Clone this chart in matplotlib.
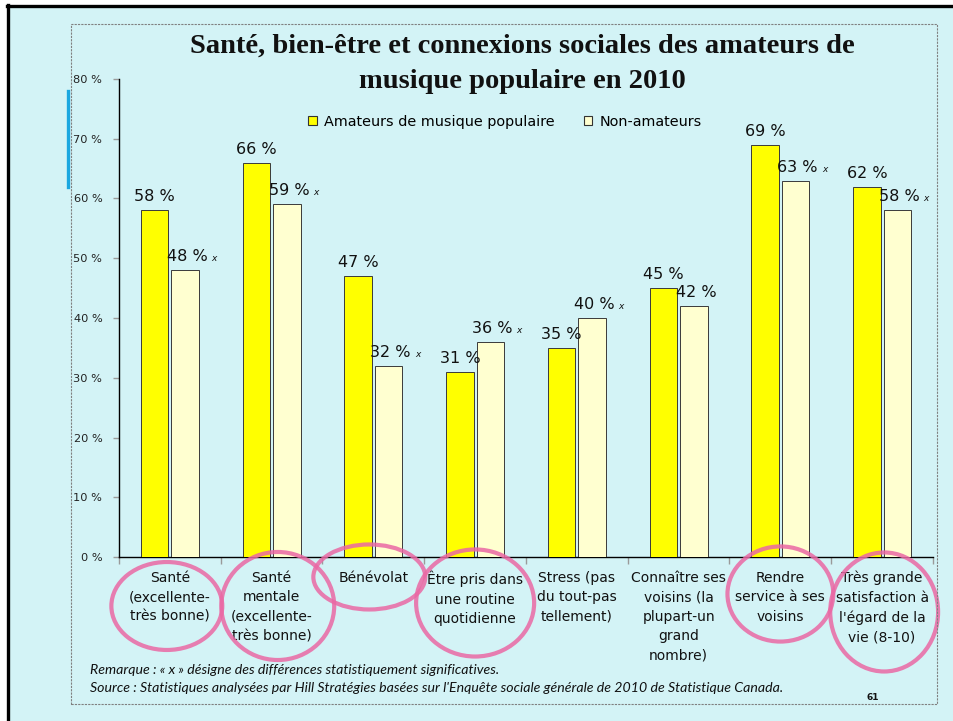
import matplotlib
matplotlib.use("Agg")
import matplotlib.pyplot as plt
from matplotlib.patches import Rectangle, Ellipse, Patch
from matplotlib.lines import Line2D
from matplotlib.transforms import blended_transform_factory
import numpy as np

# ---------------- data ----------------
categories = [
    "Santé\n(excellente-\ntrès bonne)",
    "Santé\nmentale\n(excellente-\ntrès bonne)",
    "Bénévolat",
    "Être pris dans\nune routine\nquotidienne",
    "Stress (pas\ndu tout-pas\ntellement)",
    "Connaître ses\nvoisins (la\nplupart-un\ngrand\nnombre)",
    "Rendre\nservice à ses\nvoisins",
    "Très grande\nsatisfaction à\nl'égard de la\nvie (8-10)",
]
amateurs = [58, 66, 47, 31, 35, 45, 69, 62]
non_amateurs = [48, 59, 32, 36, 40, 42, 63, 58]
significant = [True, True, True, True, True, False, True, True]
highlighted = [0, 1, 2, 3, 6, 7]

series_names = ["Amateurs de musique populaire", "Non-amateurs"]
title_lines = ["Santé, bien-être et connexions sociales des amateurs de",
               "musique populaire en 2010"]
note1 = "Remarque : « x » désigne des différences statistiquement significatives."
note2 = ("Source : Statistiques analysées par Hill Stratégies basées sur l'Enquête sociale "
         "générale de 2010 de Statistique Canada.")
page_no = "61"
yticks = [0, 10, 20, 30, 40, 50, 60, 70, 80]

# ---------------- style ----------------
BG = "#D3F3F6"
YEL = "#FFFF00"
CREAM = "#FFFFD0"
PINK = "#EA68A4"
W, H = 954, 721

fig = plt.figure(figsize=(W / 100, H / 100), dpi=100, facecolor="white")

def fx(px):
    return px / W

def fy(py):
    return 1 - py / H

# slide background + borders
fig.patches.append(Rectangle((fx(8), 0), 1 - fx(8), fy(5), transform=fig.transFigure,
                             facecolor=BG, edgecolor="none", zorder=-10))
fig.lines.append(Line2D([fx(7), 1], [fy(5.5), fy(5.5)], transform=fig.transFigure,
                        color="black", lw=2.4))
fig.lines.append(Line2D([fx(8.5), fx(8.5)], [fy(5), 0], transform=fig.transFigure,
                        color="black", lw=2.4))
# dotted chart frame
fig.patches.append(Rectangle((fx(71), fy(704)), fx(937) - fx(71), fy(24) - fy(704),
                             transform=fig.transFigure, facecolor="none",
                             edgecolor="#808080", lw=0.8, linestyle=(0, (2, 1))))
# blue accent line
fig.lines.append(Line2D([fx(68), fx(68)], [fy(91), fy(187)], transform=fig.transFigure,
                        color="#1AA7E0", lw=2.4))

ax = fig.add_axes([fx(119), fy(557), fx(933) - fx(119), fy(79) - fy(557)])
ax.set_facecolor("none")

n = len(categories)
x = np.arange(n)
bw = 0.27
off = 0.15
ax.bar(x - off, amateurs, bw, color=YEL, edgecolor="#3a3a3a", linewidth=0.7,
       label=series_names[0], zorder=3)
ax.bar(x + off, non_amateurs, bw, color=CREAM, edgecolor="#3a3a3a", linewidth=0.7,
       label=series_names[1], zorder=3)

ax.set_xlim(-0.5, n - 0.5)
ax.set_ylim(0, 80)
ax.set_yticks(yticks)
ax.set_yticklabels([f"{t} %" for t in yticks], fontsize=8.2, color="#222222")
ax.tick_params(axis="y", length=4, color="#9a9a9a", width=1, pad=8)

ax.set_xticks(np.arange(n + 1) - 0.5)
ax.set_xticklabels([])
ax.tick_params(axis="x", which="major", length=5, color="#9a9a9a", width=1)
ax.set_xticks(x, minor=True)
ax.set_xticklabels(categories, minor=True, fontsize=10, color="#111111")
ax.tick_params(axis="x", which="minor", length=0, pad=10)
for lbl in ax.get_xticklabels(minor=True):
    lbl.set_linespacing(1.5)

for s in ["top", "right"]:
    ax.spines[s].set_visible(False)
for s in ["left", "bottom"]:
    ax.spines[s].set_color("black")
    ax.spines[s].set_linewidth(1.0)

# value labels
for i in range(n):
    ax.annotate(f"{amateurs[i]} %", (x[i] - off, amateurs[i]), xytext=(0, 9),
                textcoords="offset pixels", ha="center", va="baseline",
                fontsize=11.5, color="#111111", zorder=5)
    ax.annotate(f"{non_amateurs[i]} %", (x[i] + off, non_amateurs[i]), xytext=(2, 9),
                textcoords="offset pixels", ha="center", va="baseline",
                fontsize=11.5, color="#111111", zorder=5)
    if significant[i]:
        ax.annotate("x", (x[i] + off, non_amateurs[i]), xytext=(29, 9),
                    textcoords="offset pixels", ha="center", va="baseline",
                    fontsize=6.5, style="italic", color="#111111", zorder=5)

# highlight ellipses (data-x, axes-y)
tr = blended_transform_factory(ax.transData, ax.transAxes)
ell_dx = {0: -0.03, 1: 0.06, 2: -0.04, 3: 0.0, 6: 0.0, 7: 0.02}
ell_w = {0: 1.09, 1: 1.11, 2: 1.10, 3: 1.16, 6: 1.04, 7: 1.06}
ell_cy = {0: -0.1025, 1: -0.1025, 2: -0.0418, 3: -0.0962, 6: -0.0774, 7: -0.115}
ell_h = {0: 0.184, 1: 0.226, 2: 0.136, 3: 0.224, 6: 0.199, 7: 0.249}
for k in highlighted:
    e = Ellipse((x[k] + ell_dx[k], ell_cy[k]), ell_w[k], ell_h[k], transform=tr,
                facecolor="none", edgecolor=PINK, lw=3, alpha=0.85, clip_on=False,
                zorder=10)
    ax.add_patch(e)

# legend
handles = [Patch(facecolor=YEL, edgecolor="#333333", lw=0.8),
           Patch(facecolor=CREAM, edgecolor="#333333", lw=0.8)]
fig.legend(handles, series_names, loc="center", bbox_to_anchor=(fx(505), fy(122)),
           ncol=2, frameon=False, fontsize=10.4, handlelength=0.6, handleheight=0.6,
           handletextpad=0.5, columnspacing=2.0, borderpad=0)

# title
for j, (line, ypx) in enumerate(zip(title_lines, [46, 81])):
    fig.text(fx(522), fy(ypx), line, ha="center", va="center", fontsize=20.5,
             fontweight="bold", family="Liberation Serif", color="#111111")

# notes
fig.text(fx(90), fy(670), note1, ha="left", va="center", fontsize=10.2, style="italic",
         family="Lato", color="#111111")
fig.text(fx(90), fy(688), note2, ha="left", va="center", fontsize=10.2, style="italic",
         family="Lato", color="#111111")
fig.text(fx(873), fy(698), page_no, ha="center", va="center", fontsize=6.5,
         fontweight="bold", color="#111111")

fig.savefig("out.png", dpi=100, facecolor=fig.get_facecolor())
